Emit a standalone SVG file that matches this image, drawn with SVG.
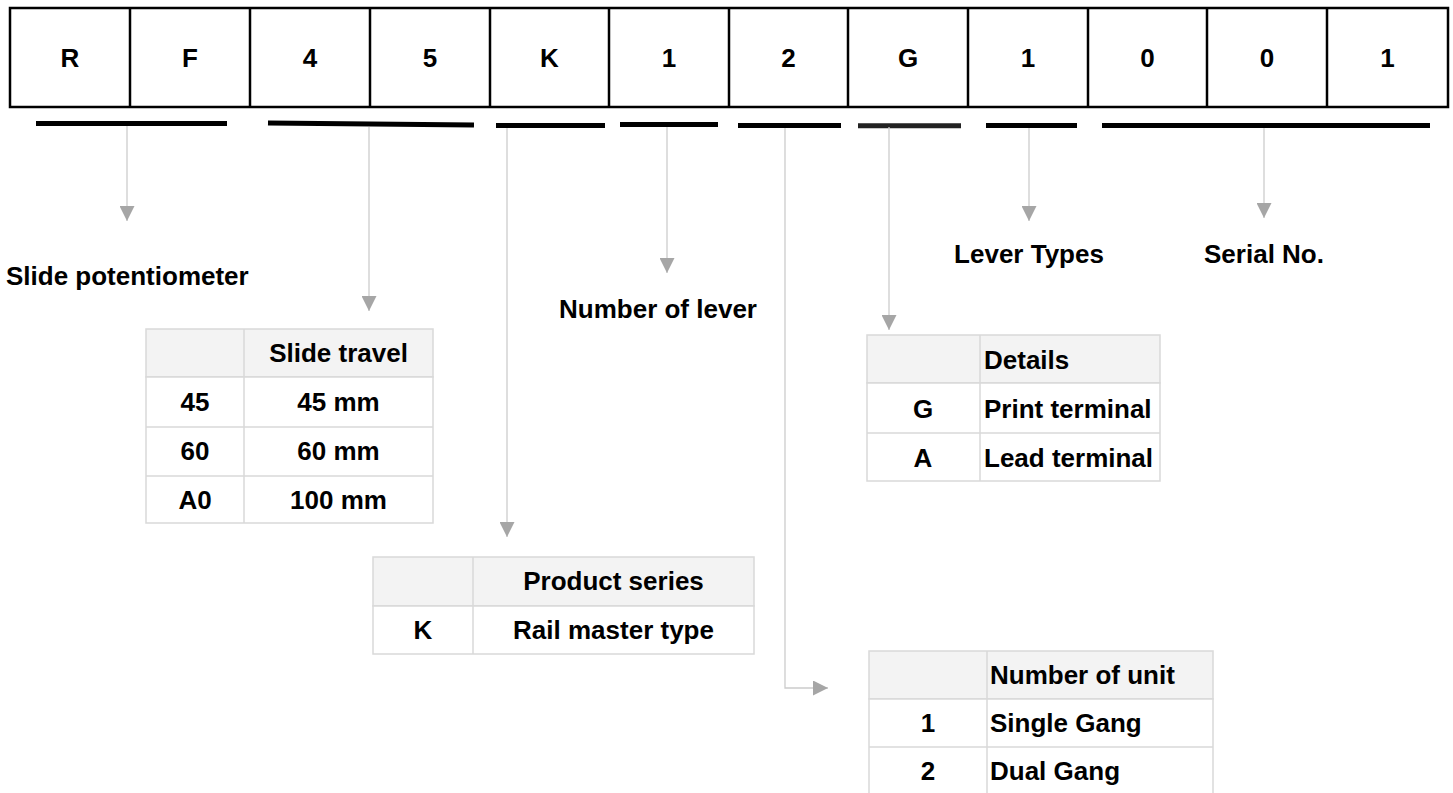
<svg xmlns="http://www.w3.org/2000/svg" width="1453" height="793" viewBox="0 0 1453 793">
<style>
text{font-family:"Liberation Sans",Arial,sans-serif;font-weight:bold;font-size:26px;fill:#000}
.c{text-anchor:middle}
.cell{fill:#fff;stroke:#000;stroke-width:2.5}
.bar{stroke:#000;stroke-width:5}
.conn{fill:none;stroke:#cccccc;stroke-width:1.3}
.tb{fill:#fff;stroke:#d9d9d9;stroke-width:1.5}
.th{fill:#f3f3f3;stroke:#d9d9d9;stroke-width:1.5}
.tl{stroke:#d9d9d9;stroke-width:1.5}
</style>
<defs>
<marker id="ah" markerUnits="userSpaceOnUse" viewBox="0 0 15 15" markerWidth="15" markerHeight="15" refX="15" refY="7.5" orient="auto">
<path d="M0,0 L15,7.5 L0,15 z" fill="#a6a6a6"/>
</marker>
</defs>
<rect width="1453" height="793" fill="#fff"/>

<g id="code">
<rect class="cell" x="10" y="8" width="1438" height="99"/>
<g stroke="#000" stroke-width="2.5">
<line x1="130" y1="8" x2="130" y2="107"/>
<line x1="250" y1="8" x2="250" y2="107"/>
<line x1="370" y1="8" x2="370" y2="107"/>
<line x1="490" y1="8" x2="490" y2="107"/>
<line x1="609" y1="8" x2="609" y2="107"/>
<line x1="729" y1="8" x2="729" y2="107"/>
<line x1="848" y1="8" x2="848" y2="107"/>
<line x1="968" y1="8" x2="968" y2="107"/>
<line x1="1088" y1="8" x2="1088" y2="107"/>
<line x1="1207" y1="8" x2="1207" y2="107"/>
<line x1="1327" y1="8" x2="1327" y2="107"/>
</g>
<text class="c" x="70" y="67">R</text>
<text class="c" x="190" y="67">F</text>
<text class="c" x="310" y="67">4</text>
<text class="c" x="430" y="67">5</text>
<text class="c" x="549.5" y="67">K</text>
<text class="c" x="669" y="67">1</text>
<text class="c" x="788.5" y="67">2</text>
<text class="c" x="908" y="67">G</text>
<text class="c" x="1028" y="67">1</text>
<text class="c" x="1147.5" y="67">0</text>
<text class="c" x="1267" y="67">0</text>
<text class="c" x="1387.5" y="67">1</text>
</g>

<g id="bars">
<line class="bar" x1="36" y1="123.5" x2="227" y2="123.5"/>
<line class="bar" x1="268" y1="123" x2="474" y2="125" stroke-width="4.5"/>
<line class="bar" x1="496" y1="125.5" x2="605" y2="125.5" stroke-width="4.5"/>
<line class="bar" x1="620" y1="124.5" x2="718" y2="124.5"/>
<line class="bar" x1="738" y1="125.5" x2="841" y2="125.5" stroke-width="4.5"/>
<line class="bar" x1="858" y1="125.7" x2="961" y2="125.7" stroke-width="3.5" style="stroke:#222"/>
<line class="bar" x1="986" y1="125.5" x2="1077" y2="125.5" stroke-width="4.5"/>
<line class="bar" x1="1102" y1="125.5" x2="1430" y2="125.5" stroke-width="4.5"/>
</g>

<g id="connectors">
<path class="conn" d="M127,126 V221" marker-end="url(#ah)"/>
<path class="conn" d="M369,127 V311" marker-end="url(#ah)"/>
<path class="conn" d="M507,128 V537" marker-end="url(#ah)"/>
<path class="conn" d="M667,127 V273" marker-end="url(#ah)"/>
<path class="conn" d="M785,128 V688 H828" marker-end="url(#ah)"/>
<path class="conn" d="M889,127 V330" marker-end="url(#ah)"/>
<path class="conn" d="M1029,128 V221" marker-end="url(#ah)"/>
<path class="conn" d="M1264,128 V218" marker-end="url(#ah)"/>
</g>

<g id="label-slide">
<text x="6" y="285">Slide potentiometer</text>
</g>
<g id="label-lever-number">
<text class="c" x="658" y="318">Number of lever</text>
</g>
<g id="label-lever-types">
<text class="c" x="1029" y="263">Lever Types</text>
</g>
<g id="label-serial">
<text class="c" x="1264" y="263">Serial No.</text>
</g>

<g id="table-travel">
<rect class="th" x="146" y="329" width="287" height="48"/>
<rect class="tb" x="146" y="377" width="287" height="146"/>
<line class="tl" x1="146" y1="427" x2="433" y2="427"/>
<line class="tl" x1="146" y1="476" x2="433" y2="476"/>
<line class="tl" x1="244" y1="329" x2="244" y2="523"/>
<text class="c" x="338.5" y="362">Slide travel</text>
<text class="c" x="195" y="411">45</text>
<text class="c" x="338.5" y="411">45 mm</text>
<text class="c" x="195" y="460">60</text>
<text class="c" x="338.5" y="460">60 mm</text>
<text class="c" x="195" y="509">A0</text>
<text class="c" x="338.5" y="509">100 mm</text>
</g>

<g id="table-series">
<rect class="th" x="373" y="557" width="381" height="49"/>
<rect class="tb" x="373" y="606" width="381" height="48"/>
<line class="tl" x1="473" y1="557" x2="473" y2="654"/>
<text class="c" x="613.5" y="590">Product series</text>
<text class="c" x="423" y="639">K</text>
<text class="c" x="613.5" y="639">Rail master type</text>
</g>

<g id="table-details">
<rect class="th" x="867" y="335" width="293" height="48"/>
<rect class="tb" x="867" y="383" width="293" height="98"/>
<line class="tl" x1="867" y1="433" x2="1160" y2="433"/>
<line class="tl" x1="980" y1="335" x2="980" y2="481"/>
<text x="984" y="369">Details</text>
<text class="c" x="923" y="418">G</text>
<text x="984" y="418">Print terminal</text>
<text class="c" x="923" y="467">A</text>
<text x="984" y="467">Lead terminal</text>
</g>

<g id="table-unit">
<rect class="th" x="869" y="651" width="344" height="48"/>
<rect class="tb" x="869" y="699" width="344" height="100"/>
<line class="tl" x1="869" y1="747" x2="1213" y2="747"/>
<line class="tl" x1="987" y1="651" x2="987" y2="799"/>
<text x="990" y="684">Number of unit</text>
<text class="c" x="928" y="732">1</text>
<text x="990" y="732">Single Gang</text>
<text class="c" x="928" y="780">2</text>
<text x="990" y="780">Dual Gang</text>
</g>
</svg>
